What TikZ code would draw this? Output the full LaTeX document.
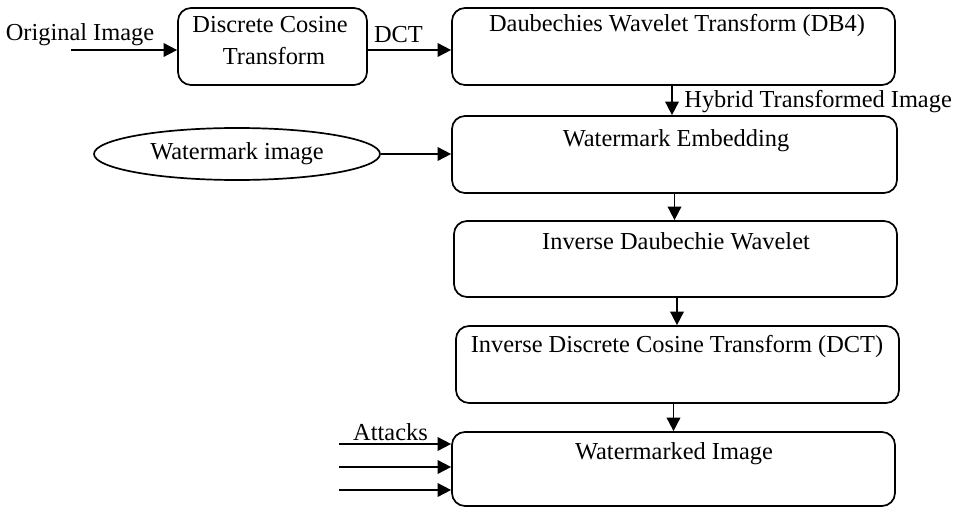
\documentclass[tikz,border=0pt]{standalone}
\usepackage{fontspec}
\setmainfont{Liberation Serif}
\usetikzlibrary{arrows.meta,shapes.geometric}
\tikzset{
  txt/.style={font=\fontsize{12.2}{16}\selectfont, inner sep=0pt},
  procbox/.style={draw, line width=0.85pt, rounded corners=6.5pt, inner sep=0pt},
  arr/.style={line width=0.85pt, -{Triangle[length=6.8pt,width=6.8pt]}},
}
\begin{document}
\begin{tikzpicture}[x=0.5pt,y=-0.5pt]
\useasboundingbox (0,0) rectangle (958,508);
% boxes
\node[procbox, minimum width=94.5pt, minimum height=38.5pt] (dctb) at (272.5,46.5) {};
\node[procbox, minimum width=221.5pt, minimum height=38.5pt] (db4) at (673.5,46.5) {};
\node[procbox, minimum width=222.5pt, minimum height=38.5pt] (emb) at (674.5,154.5) {};
\node[procbox, minimum width=221.5pt, minimum height=38pt] (idw) at (675.5,259) {};
\node[procbox, minimum width=221.5pt, minimum height=38.5pt] (idct) at (677.5,364.5) {};
\node[procbox, minimum width=221.5pt, minimum height=37pt] (wmi) at (673.5,469) {};
\node[draw, ellipse, line width=0.85pt, minimum width=143pt, minimum height=26pt, inner sep=0pt, txt] (ell) at (237,154) {Watermark image};
% box texts
\node[txt, anchor=base] (t1a) at (270,33) {Discrete Cosine};
\node[txt, anchor=base] (t1b) at (274,65) {Transform};
\node[txt, anchor=base] (t2) at (677,32) {Daubechies Wavelet Transform (DB4)};
\node[txt, anchor=base] (t3) at (676,147) {Watermark Embedding};
\node[txt, anchor=base] (t4) at (676,249) {Inverse Daubechie Wavelet};
\node[txt, anchor=base] (t5) at (677,352) {Inverse Discrete Cosine Transform (DCT)};
\node[txt, anchor=base] (t6) at (674,459) {Watermarked Image};
% labels
\node[txt, anchor=base] (lorig) at (80,41) {Original Image};
\node[txt, anchor=base] (ldct) at (398.5,43) {DCT};
\node[txt, anchor=base west] (lhyb) at (684,108) {Hybrid Transformed Image};
\node[txt, anchor=base] (latt) at (390.5,440) {Attacks};
% free ends
\coordinate (oi) at (71,50);
\coordinate (a1) at (339,444);
\coordinate (a2) at (339,467);
\coordinate (a3) at (339,490);
% connectors
\draw[arr] (oi) -- (oi -| dctb.west);
\draw[arr] ([yshift=-1.75pt]dctb.east) -- ([yshift=-1.75pt]db4.west);
\draw[arr] ([xshift=-0.75pt]db4.south) -- ([xshift=-0.75pt]db4.south |- emb.north);
\draw[arr] (ell.east) -- (ell.east -| emb.west);
\draw[arr] (emb.south) -- (emb.south |- idw.north);
\draw[arr] ([xshift=0.75pt]idw.south) -- ([xshift=0.75pt]idw.south |- idct.north);
\draw[arr] ([xshift=-2pt]idct.south) -- ([xshift=-2pt]idct.south |- wmi.north);
\draw[arr] (a1) -- (a1 -| wmi.west);
\draw[arr] (a2) -- (a2 -| wmi.west);
\draw[arr] (a3) -- (a3 -| wmi.west);
\end{tikzpicture}
\end{document}
